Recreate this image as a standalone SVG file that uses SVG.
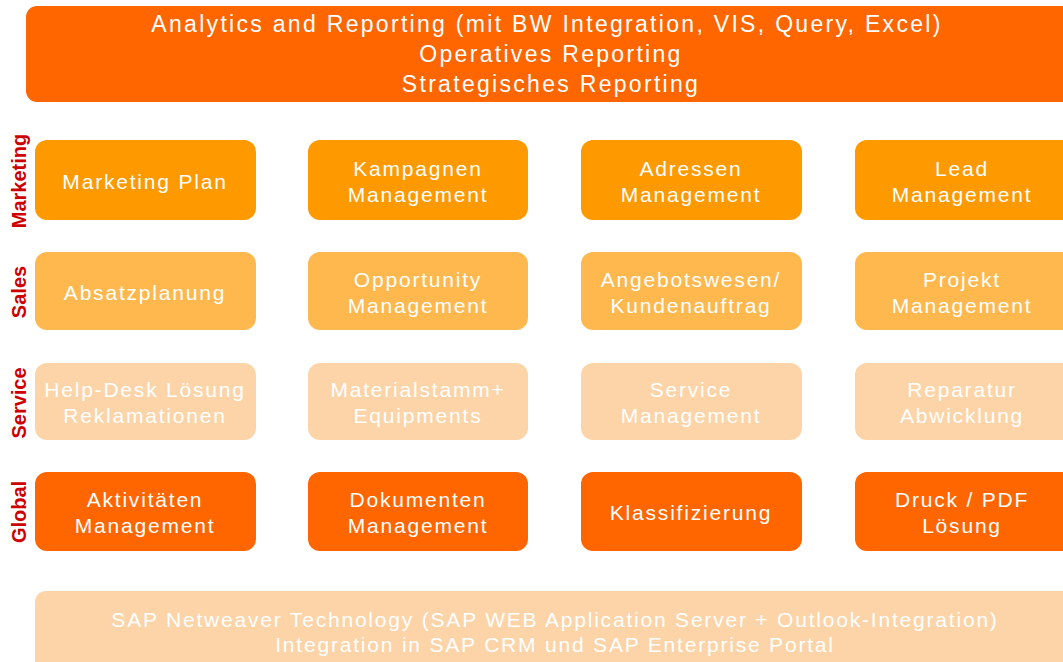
<svg xmlns="http://www.w3.org/2000/svg" width="1063" height="662" viewBox="0 0 1063 662">
<style>
.t{font-family:"Liberation Sans",Arial,sans-serif;font-size:21px;fill:#ffffff;text-anchor:middle;letter-spacing:1.8px}
.big{font-size:23px;letter-spacing:2.3px}
.lab{font-family:"Liberation Sans",Arial,sans-serif;font-size:20px;font-weight:bold;fill:#cc0000;text-anchor:middle}
.mk{fill:#ff9900}
.sl{fill:#ffb84d}
.sv{fill:#fdd4a8}
.gl{fill:#ff6600}
</style>
<rect width="1063" height="662" fill="#ffffff"/>
<g id="top">
<rect x="26" y="6" width="1060" height="96" rx="11" fill="#ff6600"/>
<text class="t big" x="547" y="32">Analytics and Reporting (mit BW Integration, VIS, Query, Excel)</text>
<text class="t big" x="551" y="62">Operatives Reporting</text>
<text class="t big" x="551" y="92">Strategisches Reporting</text>
</g>
<g id="labels">
<text class="lab" transform="translate(26,181) rotate(-90)">Marketing</text>
<text class="lab" transform="translate(26,292) rotate(-90)">Sales</text>
<text class="lab" transform="translate(26,403) rotate(-90)">Service</text>
<text class="lab" transform="translate(26,512) rotate(-90)">Global</text>
</g>
<g id="marketing-plan"><rect class="mk" x="35" y="140" width="221" height="80" rx="12"/><text class="t" x="145" y="189">Marketing Plan</text></g>
<g id="kampagnen"><rect class="mk" x="308" y="140" width="220" height="80" rx="12"/><text class="t" x="418" y="176">Kampagnen</text><text class="t" x="418" y="202">Management</text></g>
<g id="adressen"><rect class="mk" x="581" y="140" width="221" height="80" rx="12"/><text class="t" x="691" y="176">Adressen</text><text class="t" x="691" y="202">Management</text></g>
<g id="lead"><rect class="mk" x="855" y="140" width="221" height="80" rx="12"/><text class="t" x="962" y="176">Lead</text><text class="t" x="962" y="202">Management</text></g>

<g id="absatzplanung"><rect class="sl" x="35" y="252" width="221" height="78" rx="12"/><text class="t" x="145" y="300">Absatzplanung</text></g>
<g id="opportunity"><rect class="sl" x="308" y="252" width="220" height="78" rx="12"/><text class="t" x="418" y="287">Opportunity</text><text class="t" x="418" y="313">Management</text></g>
<g id="angebotswesen"><rect class="sl" x="581" y="252" width="221" height="78" rx="12"/><text class="t" x="691" y="287">Angebotswesen/</text><text class="t" x="691" y="313">Kundenauftrag</text></g>
<g id="projekt"><rect class="sl" x="855" y="252" width="221" height="78" rx="12"/><text class="t" x="962" y="287">Projekt</text><text class="t" x="962" y="313">Management</text></g>

<g id="helpdesk"><rect class="sv" x="35" y="363" width="221" height="77" rx="12"/><text class="t" x="145" y="397">Help-Desk Lösung</text><text class="t" x="145" y="423">Reklamationen</text></g>
<g id="materialstamm"><rect class="sv" x="308" y="363" width="220" height="77" rx="12"/><text class="t" x="418" y="397">Materialstamm+</text><text class="t" x="418" y="423">Equipments</text></g>
<g id="service-mgmt"><rect class="sv" x="581" y="363" width="221" height="77" rx="12"/><text class="t" x="691" y="397">Service</text><text class="t" x="691" y="423">Management</text></g>
<g id="reparatur"><rect class="sv" x="855" y="363" width="221" height="77" rx="12"/><text class="t" x="962" y="397">Reparatur</text><text class="t" x="962" y="423">Abwicklung</text></g>

<g id="aktivitaeten"><rect class="gl" x="35" y="472" width="221" height="79" rx="12"/><text class="t" x="145" y="507">Aktivitäten</text><text class="t" x="145" y="533">Management</text></g>
<g id="dokumenten"><rect class="gl" x="308" y="472" width="220" height="79" rx="12"/><text class="t" x="418" y="507">Dokumenten</text><text class="t" x="418" y="533">Management</text></g>
<g id="klassifizierung"><rect class="gl" x="581" y="472" width="221" height="79" rx="12"/><text class="t" x="691" y="520">Klassifizierung</text></g>
<g id="druck"><rect class="gl" x="855" y="472" width="221" height="79" rx="12"/><text class="t" x="962" y="507">Druck / PDF</text><text class="t" x="962" y="533">Lösung</text></g>

<g id="bottom">
<rect x="35" y="591" width="1050" height="90" rx="11" fill="#fdd4a8"/>
<text class="t" x="555" y="627">SAP Netweaver Technology (SAP WEB Application Server + Outlook-Integration)</text>
<text class="t" x="555" y="652">Integration in SAP CRM und SAP Enterprise Portal</text>
</g>
<g id="connectors"></g>
</svg>
